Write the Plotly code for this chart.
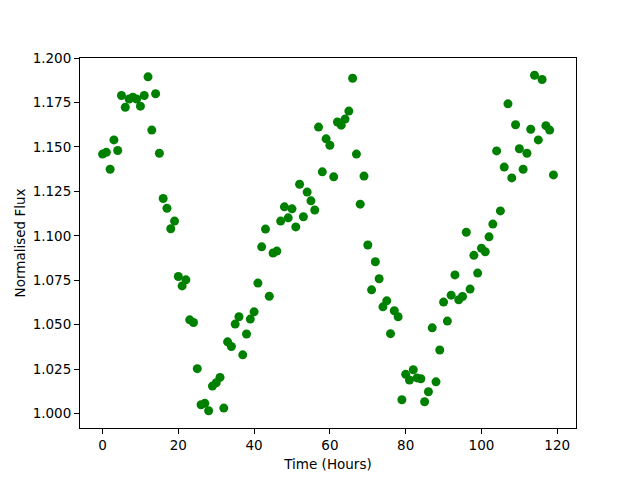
import plotly.graph_objects as go

hours = list(range(120))
flux = [
    1.146, 1.147, 1.1375, 1.154, 1.148, 1.179, 1.1724, 1.177, 1.178, 1.177,
    1.173, 1.179, 1.1895, 1.1595, 1.180, 1.1465, 1.121, 1.1155, 1.104, 1.1083,
    1.0771, 1.0718, 1.0752, 1.0527, 1.0512, 1.0252, 1.0049, 1.0057, 1.0015, 1.0154,
    1.0173, 1.0203, 1.003, 1.0403, 1.0377, 1.0503, 1.0544, 1.033, 1.0447, 1.0531,
    1.0572, 1.0734, 1.0938, 1.1038, 1.066, 1.0903, 1.0914, 1.1083, 1.1163, 1.1101,
    1.1152, 1.105, 1.129, 1.1107, 1.1246, 1.1197, 1.1145, 1.1612, 1.136, 1.1546,
    1.151, 1.1332, 1.1641, 1.1623, 1.1657, 1.1702, 1.1887, 1.146, 1.1178, 1.1336,
    1.0948, 1.0696, 1.0854, 1.0758, 1.060, 1.0634, 1.0449, 1.0578, 1.0544, 1.0077,
    1.022, 1.0188, 1.0246, 1.020, 1.0195, 1.0066, 1.0122, 1.0482, 1.0178, 1.0357,
    1.0627, 1.052, 1.0666, 1.078, 1.064, 1.0658, 1.102, 1.070, 1.089, 1.079,
    1.093, 1.091, 1.0994, 1.1066, 1.1478, 1.114, 1.1387, 1.1743, 1.1326, 1.1625,
    1.149, 1.1375, 1.1465, 1.160, 1.1904, 1.154, 1.188, 1.162, 1.1595, 1.1343,
]

x_ticks = [0, 20, 40, 60, 80, 100, 120]

fig = go.Figure(go.Scatter(
    x=hours, y=flux, mode="markers",
    marker=dict(color="#008000", size=9, line=dict(width=0)),
))

axis_common = dict(
    showgrid=False, zeroline=False, showline=True, linecolor="black", linewidth=1,
    mirror=True, ticks="outside", ticklen=5, tickwidth=1, tickcolor="black",
    automargin=False,
    tickfont=dict(family="DejaVu Sans", size=13.5, color="black"),
)

fig.update_layout(
    width=632, height=472, autosize=False,
    margin=dict(l=72, r=64, t=50, b=52),
    paper_bgcolor="white", plot_bgcolor="white",
    showlegend=False,
    font=dict(family="DejaVu Sans", size=13.5, color="black"),
    xaxis=dict(axis_common, range=[-5.95, 124.95], tickvals=x_ticks,
               title=dict(text="Time (Hours)", standoff=7,
                          font=dict(family="DejaVu Sans", size=13.5))),
    yaxis=dict(axis_common, range=[0.9918, 1.2001], dtick=0.025, tick0=1.0,
               tickformat=".3f",
               title=dict(text="Normalised Flux", standoff=3,
                          font=dict(family="DejaVu Sans", size=13.5))),
)

fig.write_html("out.html")
